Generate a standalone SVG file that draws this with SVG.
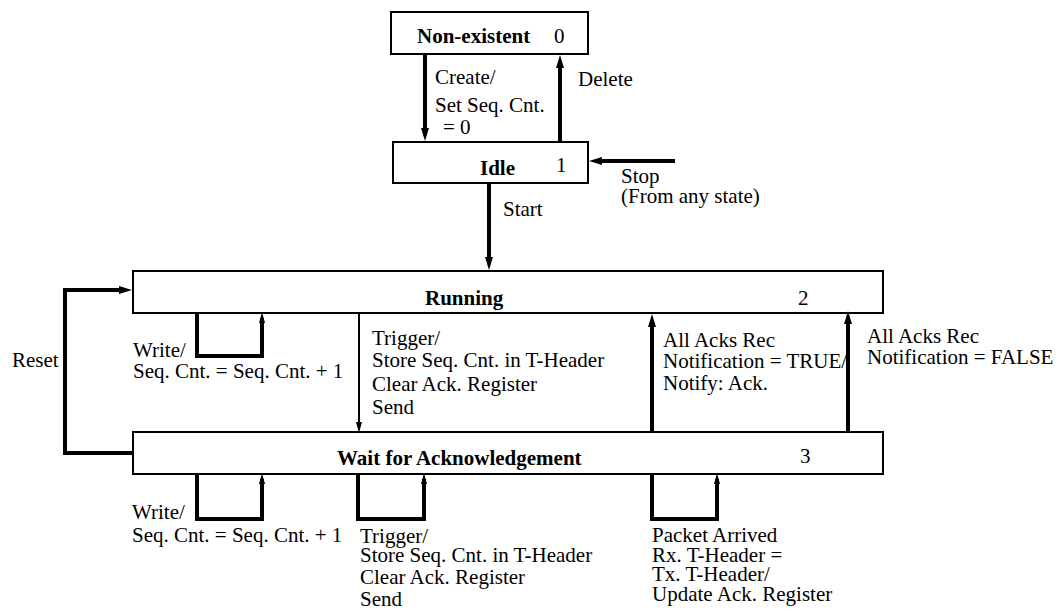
<svg xmlns="http://www.w3.org/2000/svg" width="1063" height="611" viewBox="0 0 1063 611">
  <style>
    .box { fill: #fff; stroke: #000; stroke-width: 2; }
    .t { font-family: "Liberation Serif", "Times New Roman", serif; font-size: 21px; fill: #000; }
    .b { font-weight: bold; }
    .thick { fill: none; stroke: #000; stroke-width: 4; }
    .loop { fill: none; stroke: #000; stroke-width: 4; }
    .thin { fill: none; stroke: #000; stroke-width: 2; }
  </style>
  <defs>
    <marker id="ah" markerUnits="userSpaceOnUse" viewBox="0 0 13 8" markerWidth="13" markerHeight="8" refX="7" refY="4" orient="auto">
      <path d="M0,0 L13,4 L0,8 z" fill="#000"/>
    </marker>
    <marker id="ahs" markerUnits="userSpaceOnUse" viewBox="0 0 11 6" markerWidth="11" markerHeight="6" refX="5" refY="3" orient="auto">
      <path d="M0,0 L11,3 L0,6 z" fill="#000"/>
    </marker>
  </defs>

  <g id="node-nonexistent">
    <rect class="box" x="391" y="12" width="197" height="42"/>
    <text class="t b" x="417" y="43">Non-existent</text>
    <text class="t" x="554" y="43">0</text>
  </g>

  <g id="node-idle">
    <rect class="box" x="393" y="142" width="195" height="41"/>
    <text class="t b" x="480" y="175">Idle</text>
    <text class="t" x="556" y="172">1</text>
  </g>

  <g id="node-running">
    <rect class="box" x="133" y="271" width="750" height="42"/>
    <text class="t b" x="425" y="305">Running</text>
    <text class="t" x="798" y="305">2</text>
  </g>

  <g id="node-wait">
    <rect class="box" x="133" y="432" width="750" height="42"/>
    <text class="t b" x="337" y="465">Wait for Acknowledgement</text>
    <text class="t" x="800" y="463">3</text>
  </g>

  <g id="connectors">
    <!-- Non-existent -> Idle -->
    <path class="thick" d="M425,54 V135" marker-end="url(#ah)"/>
    <text class="t" x="435" y="84">Create/</text>
    <text class="t" x="435" y="112">Set Seq. Cnt.</text>
    <text class="t" x="443" y="134"> = 0</text>

    <!-- Idle -> Non-existent -->
    <path class="thick" d="M560,142 V61" marker-end="url(#ah)"/>
    <text class="t" x="578" y="86">Delete</text>

    <!-- Stop from any state -->
    <path class="thick" d="M675,161 H595" marker-end="url(#ah)"/>
    <text class="t" x="621" y="183">Stop</text>
    <text class="t" x="621" y="203">(From any state)</text>

    <!-- Idle -> Running -->
    <path class="thick" d="M489,183 V264" marker-end="url(#ah)"/>
    <text class="t" x="503" y="216">Start</text>

    <!-- Reset: Wait -> Running -->
    <path class="thick" d="M133,453 H65 V290 H126" marker-end="url(#ah)"/>
    <text class="t" x="12" y="367">Reset</text>

    <!-- Running self-loop: Write -->
    <path class="loop" d="M197,313 V356 H262 V318" marker-end="url(#ahs)"/>
    <text class="t" x="133" y="357">Write/</text>
    <text class="t" x="133" y="378">Seq. Cnt. = Seq. Cnt. + 1</text>

    <!-- Running -> Wait: Trigger -->
    <text class="t" x="372" y="345">Trigger/</text>
    <text class="t" x="372" y="367">Store Seq. Cnt. in T-Header</text>
    <text class="t" x="372" y="391">Clear Ack. Register</text>
    <text class="t" x="372" y="414">Send</text>
    <path class="thin" d="M359,313 V427" marker-end="url(#ahs)"/>

    <!-- Wait -> Running: all acks, notification on -->
    <text class="t" x="663" y="347">All Acks Rec</text>
    <text class="t" x="663" y="368">Notification = TRUE/</text>
    <text class="t" x="663" y="390">Notify: Ack.</text>
    <path class="thick" d="M652,432 V320" marker-end="url(#ah)"/>

    <!-- Wait -> Running: all acks, notification off -->
    <text class="t" x="867" y="343">All Acks Rec</text>
    <text class="t" x="867" y="364">Notification = FALSE</text>
    <path class="thick" d="M848,432 V317" marker-end="url(#ah)"/>

    <!-- Wait self-loop: Write -->
    <path class="loop" d="M197,474 V519 H262 V479" marker-end="url(#ahs)"/>
    <text class="t" x="132" y="519">Write/</text>
    <text class="t" x="132" y="542">Seq. Cnt. = Seq. Cnt. + 1</text>

    <!-- Wait self-loop: Trigger -->
    <path class="loop" d="M358,474 V519 H424 V479" marker-end="url(#ahs)"/>
    <text class="t" x="360" y="543">Trigger/</text>
    <text class="t" x="360" y="562">Store Seq. Cnt. in T-Header</text>
    <text class="t" x="360" y="584">Clear Ack. Register</text>
    <text class="t" x="360" y="606">Send</text>

    <!-- Wait self-loop: Packet Arrived -->
    <path class="loop" d="M652,474 V519 H717 V479" marker-end="url(#ahs)"/>
    <text class="t" x="652" y="542">Packet Arrived</text>
    <text class="t" x="652" y="562">Rx. T-Header =</text>
    <text class="t" x="652" y="581">Tx. T-Header/</text>
    <text class="t" x="652" y="601">Update Ack. Register</text>
  </g>
</svg>
